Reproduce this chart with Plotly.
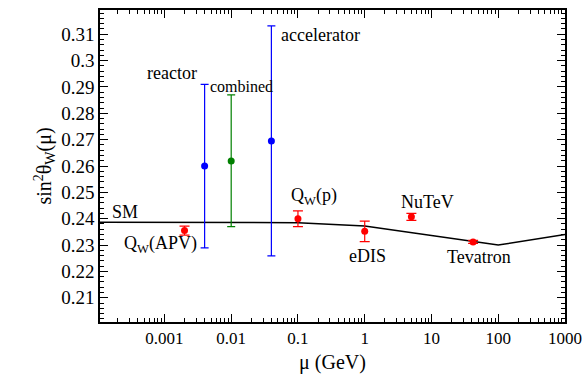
import numpy as np
import plotly.graph_objects as go

# ---- data ----
nu_names = ["reactor", "combined", "accelerator"]
nu_x = [0.004, 0.01, 0.04]
nu_y = [0.2600, 0.2619, 0.2695]
nu_err_plus = [0.0310, 0.0251, 0.0437]
nu_err_minus = [0.0311, 0.0249, 0.0436]
nu_colors = ["#0000ff", "#008000", "#0000ff"]

exp_names = ["Q_W(APV)", "Q_W(p)", "eDIS", "NuTeV", "Tevatron"]
exp_x = [0.002, 0.1, 1.0, 5.0, 42.0]
exp_y = [0.2355, 0.2400, 0.2352, 0.2407, 0.2312]
exp_err = [0.0017, 0.0030, 0.0039, 0.0013, 0.0006]

sm_x = [1e-4, 0.01, 0.1, 1.0, 100.0, 1000.0]
sm_y = [0.2387, 0.2387, 0.2385, 0.2372, 0.2300, 0.2340]

x_tick_vals = [0.001, 0.01, 0.1, 1, 10, 100, 1000]
x_tick_text = ["0.001", "0.01", "0.1", "1", "10", "100", "1000"]
y_tick_vals = [0.21, 0.22, 0.23, 0.24, 0.25, 0.26, 0.27, 0.28, 0.29, 0.30, 0.31]
y_tick_text = ["0.21", "0.22", "0.23", "0.24", "0.25", "0.26", "0.27", "0.28", "0.29", "0.3", "0.31"]

# label positions: (text, log10 x, y, font size)
labels = [
    ("reactor", -2.887, 0.2952, 18),
    ("combined", -1.840, 0.2903, 16),
    ("accelerator", -0.655, 0.3099, 18),
    ("SM", -3.59, 0.2427, 18),
    ("Q<sub>W</sub>(APV)", -3.066, 0.2302, 18),
    ("Q<sub>W</sub>(p)", -0.759, 0.2483, 18),
    ("NuTeV", 0.933, 0.2464, 18),
    ("eDIS", 0.042, 0.2260, 18),
    ("Tevatron", 1.705, 0.2256, 18),
]

FONT = "Liberation Serif, DejaVu Serif, Times New Roman, serif"

fig = go.Figure()

fig.add_trace(go.Scatter(x=sm_x, y=sm_y, mode="lines",
                         line=dict(color="black", width=1.5), showlegend=False))

for name, x, y, ep, em, c in zip(nu_names, nu_x, nu_y, nu_err_plus, nu_err_minus, nu_colors):
    fig.add_trace(go.Scatter(
        x=[x], y=[y], mode="markers", name=name,
        marker=dict(color=c, size=7),
        error_y=dict(type="data", symmetric=False, array=[ep], arrayminus=[em],
                     color=c, thickness=1.2, width=4),
        showlegend=False))

fig.add_trace(go.Scatter(
    x=exp_x, y=exp_y, mode="markers",
    marker=dict(color="#ff0000", size=7),
    error_y=dict(type="data", array=exp_err, color="#ff0000", thickness=1.2, width=5),
    showlegend=False))

for txt, lx, ly, fs in labels:
    fig.add_annotation(x=lx, y=ly, xref="x", yref="y", text=txt, showarrow=False,
                       font=dict(family=FONT, size=fs, color="black"))

minor_x = [m * 10.0 ** e for e in range(-4, 3) for m in range(2, 10)]

fig.update_xaxes(
    type="log", range=[-3.965, 3.0], automargin=False,
    tickmode="array", tickvals=x_tick_vals, ticktext=x_tick_text,
    ticks="inside", ticklen=8, tickwidth=1.2, tickcolor="black",
    showline=True, linecolor="black", linewidth=1.5, mirror="allticks",
    showgrid=False, zeroline=False,
    tickfont=dict(family=FONT, size=17, color="black"),
    minor=dict(tickmode="array", tickvals=minor_x, ticks="inside", ticklen=4,
               tickwidth=1, tickcolor="black", showgrid=False),
    title=dict(text="μ (GeV)", font=dict(family=FONT, size=20, color="black"), standoff=8),
)
fig.update_yaxes(
    range=[0.2008, 0.3192], automargin=False,
    tickmode="array", tickvals=y_tick_vals, ticktext=y_tick_text,
    ticks="inside", ticklen=8, tickwidth=1.2, tickcolor="black",
    showline=True, linecolor="black", linewidth=1.5, mirror="allticks",
    showgrid=False, zeroline=False,
    tickfont=dict(family=FONT, size=19, color="black"),
    minor=dict(dtick=0.002, tick0=0.2, ticks="inside", ticklen=4,
               tickwidth=1, tickcolor="black", showgrid=False),
    title=dict(text="sin<sup>2</sup>θ<sub>W</sub>(μ)", font=dict(family=FONT, size=20, color="black"), standoff=4),
)

fig.update_layout(
    width=585, height=378,
    margin=dict(l=100, r=20, t=10, b=56),
    plot_bgcolor="white", paper_bgcolor="white",
    showlegend=False,
)

fig.write_html("out.html", config={"displayModeBar": False},
               post_script="document.body.style.margin='0';document.body.style.overflow='hidden';")
